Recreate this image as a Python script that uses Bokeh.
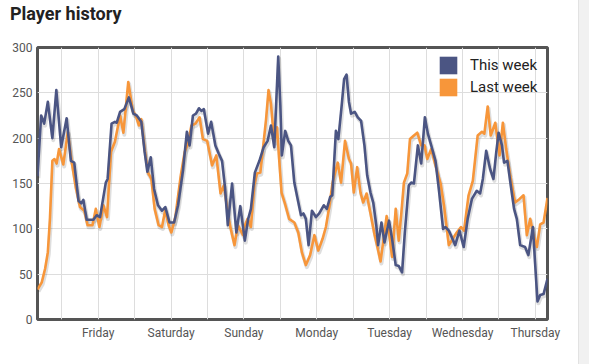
from bokeh.plotting import figure
from bokeh.layouts import row, column
from bokeh.models import FixedTicker, Legend, LegendItem, ColumnDataSource, Range1d, Div
from bokeh.transform import dodge
from bokeh.embed import file_html
from bokeh.resources import INLINE

# ---- data (hours relative to Friday 00:00, players) ----
days = ["Friday", "Saturday", "Sunday", "Monday", "Tuesday", "Wednesday", "Thursday"]

this_week_hours = [
    -20, -18.8, -17.8, -16.6, -15.1, -13.8, -12.2, -10.4, -9.0, -7.9, -6.5, -5.6, -4.9, -3.8,
    -1.6, -0.5, 0.6, 1.7, 2.5, 3.1, 4.4, 5.5, 6.1, 7.2, 8.6, 10.1, 11.6, 12.7, 14.2, 15.3,
    16.2, 17.3, 18.4, 19.7, 21.0, 22.1, 23.5, 25.0, 26.3, 27.9, 29.2, 30.1, 31.2, 32.2, 33.2,
    34.0, 34.8, 36.2, 37.2, 38.6, 39.7, 40.8, 41.7, 42.7, 44.1, 45.5, 46.8, 48.3, 49.4, 50.3,
    51.6, 53.1, 54.5, 55.8, 56.9, 58.0, 59.3, 60.0, 60.5, 61.6, 62.6, 63.5, 64.6, 65.7, 66.8,
    67.6, 68.4, 69.3, 70.4, 71.7, 72.8, 74.3, 75.3, 76.4, 77.1, 78.3, 79.1, 80.2, 81.0, 81.8,
    82.6, 83.3, 84.5, 85.5, 86.6, 87.7, 88.6, 89.7, 90.6, 91.6, 92.2, 93.3, 94.3, 95.8, 96.8,
    98.0, 99.0, 100.1, 101.0, 102.3, 103.1, 104.0, 105.3, 106.4, 107.6, 108.6, 109.7, 111.1,
    112.2, 113.6, 114.4, 115.5, 116.2, 117.6, 119.0, 120.4, 121.7, 123.1, 124.7, 125.8, 126.7,
    127.8, 129.1, 130.2, 131.1, 131.9, 133.0, 133.7, 134.8, 135.9, 137.0, 137.9, 139.0, 140.6,
    141.7, 143.2, 143.9, 144.7, 145.6, 146.7, 148,
]
this_week_players = [
    158, 225, 216, 240, 200, 253, 190, 222, 175, 173, 131, 128, 132, 110,
    110, 115, 113, 135, 151, 155, 216, 218, 217, 229, 232, 245, 227, 225, 218, 185,
    163, 179, 144, 126, 120, 124, 107, 107, 126, 164, 207, 192, 225, 227, 233,
    230, 232, 205, 218, 192, 183, 175, 148, 104, 150, 96, 125, 87, 111, 122,
    162, 175, 190, 197, 214, 190, 290, 236, 181, 208, 197, 192, 151, 133, 115,
    117, 111, 82, 120, 113, 117, 126, 122, 135, 137, 208, 199, 236, 265, 270,
    240, 227, 229, 223, 219, 192, 159, 140, 129, 104, 82, 107, 85, 109, 89,
    60, 59, 52, 96, 148, 151, 150, 192, 172, 223, 205, 192, 175,
    144, 100, 102, 98, 93, 82, 98, 80, 111, 133, 142, 139, 155,
    186, 166, 155, 184, 206, 192, 173, 175, 148, 122, 111, 82, 80,
    71, 102, 63, 20, 27, 28, 45,
]

last_week_hours = [
    -20, -18.6, -17.5, -16.6, -15.9, -15.1, -14.4, -13.7, -12.9, -11.5, -10.0, -8.7, -7.4,
    -6.0, -4.6, -3.5, -1.9, -0.8, 0.4, 1.7, 2.9, 4.2, 5.5, 7.2, 8.3, 9.9, 11.4, 12.4, 13.4,
    14.2, 15.3, 16.4, 17.5, 18.6, 19.9, 21.0, 22.1, 23.2, 24.1, 25.4, 27.2, 28.5, 29.6, 30.7,
    32.0, 33.4, 34.5, 35.9, 37.5, 38.9, 40.3, 41.4, 43.0, 43.8, 44.9, 46.0, 47.7, 48.1, 49.2,
    50.3, 51.4, 52.3, 53.4, 54.5, 55.3, 56.1, 56.9, 58.0, 58.9, 59.6, 60.4, 61.5, 62.9, 64.6,
    65.9, 67.1, 68.4, 69.8, 71.2, 72.5, 73.9, 75.0, 76.1, 77.2, 78.9, 80.0, 81.3, 82.6, 83.3,
    84.2, 85.3, 86.4, 87.3, 88.4, 89.7, 91.0, 92.1, 93.0, 94.1, 95.0, 95.8, 96.8, 98.0, 99.0,
    99.8, 100.7, 101.8, 102.7, 104.0, 105.1, 106.4, 107.5, 108.4, 109.7, 111.1, 112.8, 113.9,
    115.5, 116.8, 118.1, 119.5, 120.5, 122.0, 123.4, 125.0, 126.4, 127.2, 128.3, 129.3, 130.8,
    132.2, 133.3, 134.4, 135.7, 137.3, 138.8, 140.1, 141.2, 142.3, 143.4, 144.5, 145.6, 146.7,
    148,
]
last_week_players = [
    33, 41, 56, 74, 111, 175, 177, 172, 188, 171, 207, 173, 146,
    124, 120, 104, 104, 122, 102, 126, 113, 185, 196, 225, 206, 262, 230, 225, 214,
    221, 188, 162, 155, 122, 104, 102, 121, 104, 96, 113, 159, 185, 194, 214,
    216, 223, 199, 197, 170, 181, 139, 148, 111, 98, 82, 104, 93, 102, 111,
    102, 148, 161, 162, 196, 221, 253, 238, 196, 212, 177, 140, 128, 111, 107,
    96, 74, 60, 71, 93, 76, 89, 102, 124, 151, 173, 151, 197, 177, 172,
    140, 168, 140, 129, 139, 117, 94, 78, 64, 91, 114, 96, 69, 122, 87,
    115, 151, 161, 199, 203, 206, 192, 192, 177, 188, 170, 150, 126,
    82, 89, 96, 102, 98, 137, 153, 203, 207, 205, 235, 203, 217,
    181, 217, 188, 159, 129, 133, 137, 93, 111, 93, 80, 105, 107,
    134,
]

NAVY = "#4b5583"
ORANGE = "#f7963a"

day_ticks = [24 * i for i in range(len(days))]
half_ticks = [t - 12 for t in day_ticks]

p = figure(width=578, height=318, output_backend="svg", toolbar_location=None,
           x_range=Range1d(-20, 148), y_range=Range1d(0, 300),
           min_border_left=37, min_border_right=31, min_border_top=20, min_border_bottom=26)

p.outline_line_color = "#555555"
p.outline_line_width = 3
p.background_fill_color = "white"
p.border_fill_color = "white"

ticker = FixedTicker(ticks=day_ticks, minor_ticks=half_ticks)
p.xaxis.ticker = ticker
p.xaxis.major_label_overrides = {t: d for t, d in zip(day_ticks, days)}
p.yaxis.ticker = FixedTicker(ticks=[0, 50, 100, 150, 200, 250, 300])

p.xgrid.ticker = ticker
p.xgrid.grid_line_color = "#dddddd"
p.xgrid.minor_grid_line_color = "#dddddd"
p.ygrid.grid_line_color = "#dddddd"

for ax in (p.xaxis, p.yaxis):
    ax.axis_line_color = None
    ax.major_tick_line_color = None
    ax.minor_tick_line_color = None
    ax.major_tick_out = 0
    ax.minor_tick_out = 0
    ax.major_tick_in = 0
    ax.minor_tick_in = 0
    ax.major_label_text_font = "Roboto"
    ax.major_label_text_font_size = "12px"
    ax.major_label_text_color = "#555555"
p.xaxis.major_label_standoff = 6
p.yaxis.major_label_standoff = 5

src_this = ColumnDataSource(dict(x=this_week_hours, y=this_week_players))
src_last = ColumnDataSource(dict(x=last_week_hours, y=last_week_players))

# soft shadows
for src in (src_last, src_this):
    p.line(x=dodge("x", 0.3, range=p.x_range), y=dodge("y", -2.2, range=p.y_range),
           source=src, line_color="black", line_alpha=0.13, line_width=4, line_join="round")

p.line("x", "y", source=src_last, line_color=ORANGE, line_width=2.6, line_join="round")
p.line("x", "y", source=src_this, line_color=NAVY, line_width=2.6, line_join="round")

# zero-height areas: only used for square legend swatches
sw_this = p.varea(x="x", y1="y", y2="y", source=src_this, fill_color=NAVY, fill_alpha=1)
sw_last = p.varea(x="x", y1="y", y2="y", source=src_last, fill_color=ORANGE, fill_alpha=1)

legend = Legend(items=[LegendItem(label="This week", renderers=[sw_this]),
                       LegendItem(label="Last week", renderers=[sw_last])],
                location=(400, 221), glyph_width=22, glyph_height=22, spacing=-1,
                padding=0, margin=0, label_standoff=11,
                border_line_color=None, background_fill_alpha=0,
                label_text_font="Roboto", label_text_font_size="15px",
                label_text_color="#222222")
p.add_layout(legend)

title_div = Div(
    text=('<div style="padding:3px 0 0 10px; font-family:Roboto; font-size:18px; '
          'font-weight:bold; color:#222222; line-height:21px; white-space:nowrap">'
          'Player history</div>'),
    width=578, height=27, margin=0)

strip = Div(width=11, height=364, margin=0,
            styles={"background-color": "#f1f1f1", "border-left": "1px solid #e2e2e2",
                    "box-sizing": "border-box"})

layout = row(column(title_div, p, spacing=0), strip, spacing=0)
open("out.html", "w").write(file_html(layout, INLINE))
